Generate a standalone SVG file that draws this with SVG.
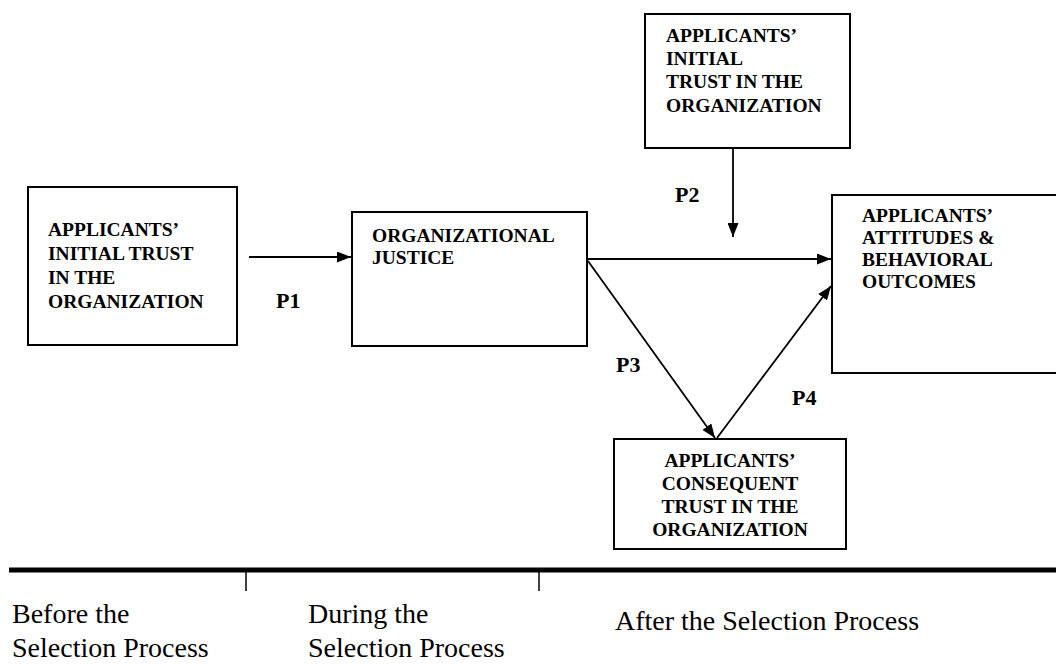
<svg xmlns="http://www.w3.org/2000/svg" width="1056" height="664" viewBox="0 0 1056 664">
<defs>
<marker id="arr" viewBox="0 0 14 11" refX="14" refY="5.5" markerWidth="14" markerHeight="11" markerUnits="userSpaceOnUse" orient="auto">
<path d="M0,0 L14,5.5 L0,11 z" fill="#000"/>
</marker>
<style>
.box{fill:#fff;stroke:#000;stroke-width:2}
.bt{font-family:"Liberation Serif","Times New Roman",serif;font-weight:bold;font-size:19.5px;fill:#000}
.pl{font-family:"Liberation Serif","Times New Roman",serif;font-weight:bold;font-size:22px;fill:#000}
.tl{font-family:"Liberation Serif","Times New Roman",serif;font-size:28px;fill:#000}
.cn{fill:none;stroke:#000;stroke-width:1.8}
</style>
</defs>
<rect width="1056" height="664" fill="#fff"/>
<g id="node-initial-trust">
<rect class="box" x="28" y="187" width="209" height="158"/>
<text class="bt" x="48" y="236">APPLICANTS’</text>
<text class="bt" x="48" y="260">INITIAL TRUST</text>
<text class="bt" x="48" y="284">IN THE</text>
<text class="bt" x="48" y="308">ORGANIZATION</text>
</g>
<g id="node-justice">
<rect class="box" x="352" y="212" width="235" height="134"/>
<text class="bt" x="372" y="242">ORGANIZATIONAL</text>
<text class="bt" x="372" y="264">JUSTICE</text>
</g>
<g id="node-initial-trust-2">
<rect class="box" x="645" y="14" width="205" height="134"/>
<text class="bt" x="666" y="42">APPLICANTS’</text>
<text class="bt" x="666" y="65">INITIAL</text>
<text class="bt" x="666" y="88">TRUST IN THE</text>
<text class="bt" x="666" y="112">ORGANIZATION</text>
</g>
<g id="node-outcomes">
<rect class="box" x="832" y="195" width="260" height="178"/>
<text class="bt" x="862" y="222">APPLICANTS’</text>
<text class="bt" x="862" y="244">ATTITUDES &amp;</text>
<text class="bt" x="862" y="266">BEHAVIORAL</text>
<text class="bt" x="862" y="288">OUTCOMES</text>
</g>
<g id="node-consequent">
<rect class="box" x="614" y="439" width="232" height="110"/>
<g text-anchor="middle">
<text class="bt" x="730" y="467">APPLICANTS’</text>
<text class="bt" x="730" y="490">CONSEQUENT</text>
<text class="bt" x="730" y="513">TRUST IN THE</text>
<text class="bt" x="730" y="536">ORGANIZATION</text>
</g>
</g>
<g id="connectors">
<line class="cn" x1="249" y1="257" x2="351" y2="257" marker-end="url(#arr)"/>
<line class="cn" x1="733" y1="149" x2="733" y2="237" marker-end="url(#arr)"/>
<line class="cn" x1="588" y1="259" x2="831" y2="259" marker-end="url(#arr)"/>
<line class="cn" x1="588" y1="261" x2="715" y2="438" marker-end="url(#arr)"/>
<line class="cn" x1="717" y1="438" x2="831" y2="286" marker-end="url(#arr)"/>
<text class="pl" x="276" y="308">P1</text>
<text class="pl" x="675" y="202">P2</text>
<text class="pl" x="616" y="372">P3</text>
<text class="pl" x="792" y="405">P4</text>
</g>
<g id="timeline">
<line x1="9" y1="570" x2="1056" y2="570" stroke="#000" stroke-width="5"/>
<line x1="246" y1="570" x2="246" y2="591" stroke="#000" stroke-width="1.5"/>
<line x1="539" y1="570" x2="539" y2="591" stroke="#000" stroke-width="1.5"/>
<text class="tl" x="12" y="623">Before the</text>
<text class="tl" x="12" y="657">Selection Process</text>
<text class="tl" x="308" y="623">During the</text>
<text class="tl" x="308" y="657">Selection Process</text>
<text class="tl" x="615" y="630">After the Selection Process</text>
</g>
</svg>
